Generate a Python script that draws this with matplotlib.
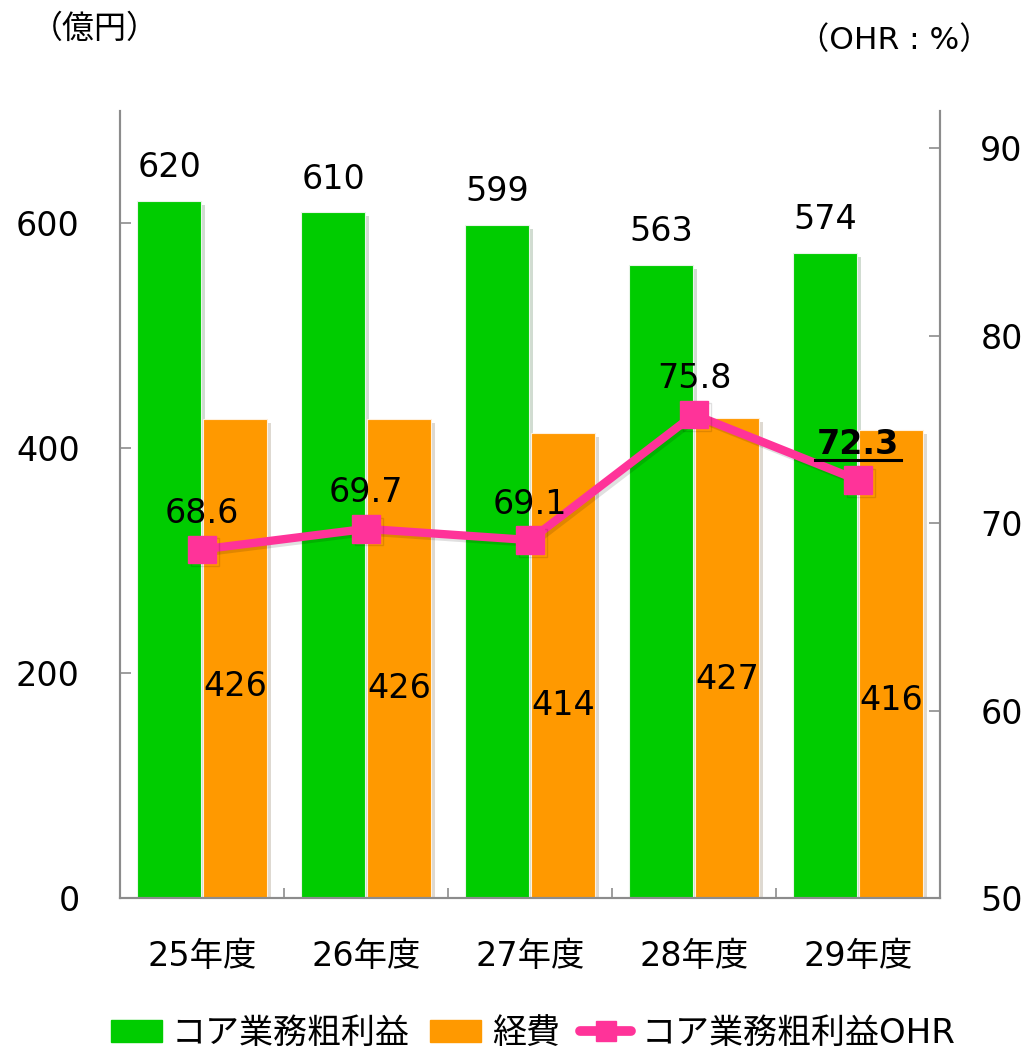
import numpy as np
import matplotlib.pyplot as plt
import matplotlib.patheffects as pe
from matplotlib.lines import Line2D
from matplotlib.patches import Patch

# 数字は DejaVu、日本語は Noto CJK で描く
plt.rcParams['font.family'] = ['DejaVu Sans', 'Noto Sans CJK JP']

# データ
years = ['25年度', '26年度', '27年度', '28年度', '29年度']
core_profit = [620, 610, 599, 563, 574]
expenses = [426, 426, 414, 427, 416]
ohr = [68.6, 69.7, 69.1, 75.8, 72.3]

# 経費ラベルの高さ（億円軸）
expense_label_y = [180, 178, 163, 186, 167]

green = '#00CC00'
orange = '#FF9900'
pink = '#FF3399'
gray = '#8C8C8C'

fig = plt.figure(figsize=(10.25, 10.5), dpi=100)
ax = fig.add_axes([0.1171, 0.1448, 0.8, 0.7495])
ax2 = ax.twinx()

x = np.arange(len(years))
w = 0.39
shadow = [pe.SimplePatchShadow(offset=(3, -3), alpha=0.18), pe.Normal()]
b1 = ax.bar(x - 0.2, core_profit, w, color=green, edgecolor='#E8F5E8', linewidth=0.8)
b2 = ax.bar(x + 0.2, expenses, w, color=orange, edgecolor='#FFF0DD', linewidth=0.8)
for p in list(b1) + list(b2):
    p.set_path_effects(shadow)

ax.set_xlim(-0.5, 4.5)
ax.set_ylim(0, 700)
ax.set_yticks([0, 200, 400, 600])
ax.set_xticks(x)
ax.set_xticklabels(years)
ax.set_xticks(np.arange(0.5, 4.5, 1), minor=True)
ax.tick_params(axis='x', which='major', length=0, pad=30, labelsize=24)
ax.tick_params(axis='x', which='minor', direction='in', length=7, color=gray, width=1.2)
ax.tick_params(axis='y', direction='in', length=8, color=gray, width=1.2, pad=29, labelsize=24)

ax2.set_ylim(50, 92)
ax2.set_yticks([50, 60, 70, 80, 90])
ax2.tick_params(axis='y', direction='in', length=8, color=gray, width=1.2, pad=29, labelsize=24)

for a in (ax, ax2):
    a.spines['top'].set_visible(False)
    for s in ('left', 'right', 'bottom'):
        a.spines[s].set_color(gray)
        a.spines[s].set_linewidth(1.5)

# 折れ線（OHR）
ax2.plot(x, ohr, color=pink, linewidth=6, marker='s', markersize=20,
         solid_capstyle='round', zorder=5,
         path_effects=[pe.SimpleLineShadow(offset=(2, -2), alpha=0.12), pe.Normal()])

# ラベル
for xi, v in zip(x, core_profit):
    ax.annotate(str(v), (xi - 0.2, v), xytext=(0, 17), textcoords='offset points',
                ha='center', va='baseline', fontsize=24)
for xi, v, ly in zip(x, expenses, expense_label_y):
    ax.text(xi + 0.2, ly, str(v), ha='center', va='baseline', fontsize=24)

ohr_texts = []
for i, (xi, v) in enumerate(zip(x, ohr)):
    bold = i == len(ohr) - 1
    t = ax2.annotate(f'{v:.1f}', (xi, v), xytext=(0, 19), textcoords='offset points',
                     ha='center', va='baseline', fontsize=24,
                     fontweight='bold' if bold else 'normal', zorder=10)
    ohr_texts.append(t)

fig.text(0.03, 0.972, '（億円）', fontsize=23, ha='left', va='center')
fig.text(0.966, 0.962, '（OHR : %）', fontsize=22.5, ha='right', va='center')

handles = [Patch(color=green), Patch(color=orange),
           Line2D([], [], color=pink, linewidth=7, marker='s', markersize=14,
                  solid_capstyle='round')]
fig.legend(handles, ['コア業務粗利益', '経費', 'コア業務粗利益OHR'],
           loc='center', bbox_to_anchor=(0.52, 0.016), ncol=3, frameon=False,
           fontsize=24.5, handlelength=1.5, handleheight=0.6, handletextpad=0.3,
           columnspacing=0.6)

# 最終年度の OHR に下線
fig.canvas.draw()
t = ohr_texts[-1]
bb = t.get_window_extent()
base_y = ax2.transData.transform((x[-1], ohr[-1]))[1] + 19 * fig.dpi / 72
inv = fig.transFigure.inverted()
(x0, y0) = inv.transform((bb.x0 - 2, base_y - 6))
(x1, _) = inv.transform((bb.x1 + 2, base_y - 6))
fig.add_artist(Line2D([x0, x1], [y0, y0], color='black', linewidth=2.2,
                      transform=fig.transFigure))

fig.savefig('out.png', dpi=100)
